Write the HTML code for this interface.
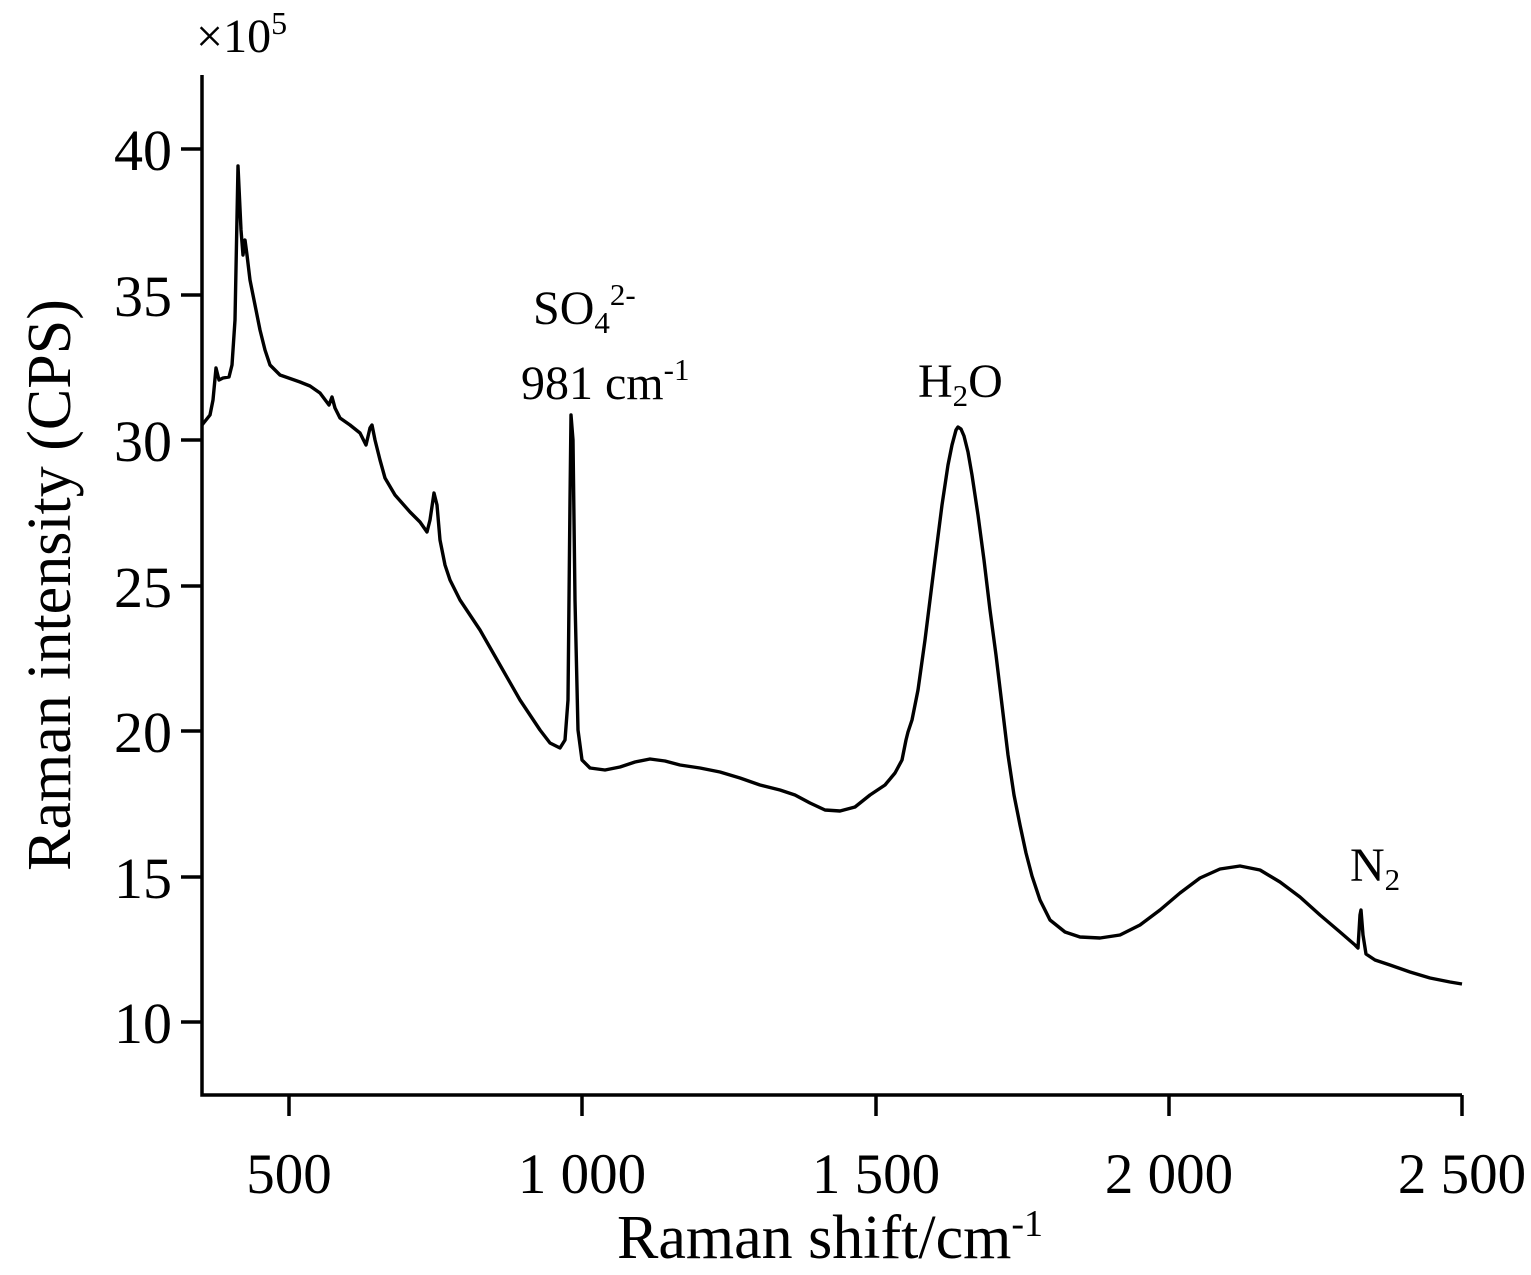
<!DOCTYPE html>
<html><head><meta charset="utf-8"><style>body{margin:0;background:#fff}svg{display:block}text{font-family:"Liberation Serif",serif;fill:#000}</style></head><body>
<svg width="1531" height="1275" viewBox="0 0 1531 1275" xmlns="http://www.w3.org/2000/svg">
<g stroke="#000" stroke-width="3.5" fill="none">
<path d="M202,75 V1095 H1462"/>
<path d="M181,149H202M181,295H202M181,440H202M181,586H202M181,731H202M181,877H202M181,1022H202"/>
<path d="M289,1095V1116M582,1095V1116M876,1095V1116M1169,1095V1116M1462,1095V1116"/>
<path stroke-width="3.4" stroke-linejoin="round" d="M202,425 L210,415 213,400 216,368 219,380 223,378 229,377 232,365 235,320 238,166 241,230 243,255 245,240 247,255 250,280 255,305 260,330 265,350 270,365 280,375 300,382 310,386 320,393 329,405 332,397 335,408 340,418 350,425 360,433 366,445 370,428 372,425 375,440 380,460 385,478 395,495 410,512 420,522 427,532 430,520 434,493 437,505 440,540 445,565 450,580 460,600 480,630 500,665 520,700 540,730 550,743 560,748 565,740 568,700 570,500 571,415 573,440 575,600 578,730 582,760 590,768 605,770 620,767 635,762 650,759 665,761 680,765 700,768 720,772 740,778 760,785 780,790 795,795 810,803 825,810 840,811 855,807 870,795 885,785 895,773 902,760 906,740 908,732 912,720 918,690 925,640 935,560 942,505 948,465 952,445 956,430 958,427 961,429 964,436 968,452 972,475 978,515 984,560 990,610 996,655 1002,705 1008,755 1014,795 1020,825 1026,853 1032,876 1040,900 1050,920 1065,932 1080,937 1100,938 1120,935 1140,925 1160,910 1180,893 1200,878 1220,869 1240,866 1260,870 1280,882 1300,897 1320,915 1340,932 1355,945 1358,948 1360,915 1361,910 1363,935 1366,954 1375,960 1390,965 1410,972 1430,978 1450,982 1462,984"/>
</g>
<g font-size="58" text-anchor="end">
<text x="172" y="170">40</text><text x="172" y="316">35</text><text x="172" y="461">30</text><text x="172" y="607">25</text><text x="172" y="752">20</text><text x="172" y="898">15</text><text x="172" y="1043">10</text>
</g>
<g font-size="57" text-anchor="middle">
<text x="289" y="1193">500</text><text x="582" y="1193">1 000</text><text x="876" y="1193">1 500</text><text x="1169" y="1193">2 000</text><text x="1462" y="1193">2 500</text>
</g>
<text x="196" y="52" font-size="48">×10<tspan font-size="32" dy="-18">5</tspan></text>
<text transform="translate(70,585) rotate(-90)" font-size="62" text-anchor="middle">Raman intensity (CPS)</text>
<text x="830" y="1258" font-size="62" text-anchor="middle">Raman shift/cm<tspan font-size="38" dy="-22">-1</tspan></text>
<text x="533" y="324" font-size="48">SO<tspan font-size="31" dy="9">4</tspan><tspan font-size="31" dy="-28">2-</tspan></text>
<text x="521" y="399" font-size="48">981 cm<tspan font-size="31" dy="-19">-1</tspan></text>
<text x="918" y="397" font-size="48">H<tspan font-size="31" dy="9">2</tspan><tspan dy="-9">O</tspan></text>
<text x="1350" y="881" font-size="48">N<tspan font-size="31" dy="9">2</tspan></text>
</svg>
</body></html>
